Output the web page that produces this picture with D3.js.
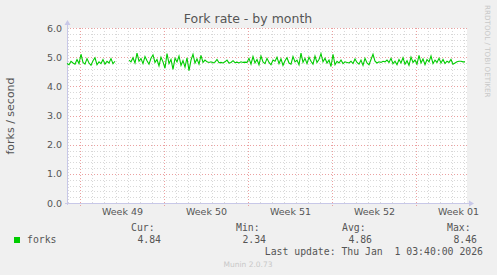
<!DOCTYPE html>
<html><head><meta charset="utf-8">
<script src="https://cdn.jsdelivr.net/npm/d3@7"></script>
<style>
html,body{margin:0;padding:0;background:#f0f0f0;}
svg{display:block;}
text{font-family:"DejaVu Sans",sans-serif;}
.mono{font-family:"DejaVu Sans Mono",monospace;}
</style></head>
<body>
<script>
// ---- data ----
const title = "Fork rate - by month";
const yLabel = "forks / second";
const yTickValues = [0, 1, 2, 3, 4, 5, 6];
const weekLabels = ["Week 49", "Week 50", "Week 51", "Week 52", "Week 01"];
const weekStarts = ["2025-12-01", "2025-12-08", "2025-12-15", "2025-12-22", "2025-12-29"];
const seriesStart = "2025-11-29T22:00:00Z";
const stepHours = 4;
const forks = [
  4.78, 4.74, 4.86, 4.80, 4.76, 4.92, 4.78, 5.10, 4.82, 4.76, 4.95, 4.80, 4.72, 4.88, 4.98, 4.74, 4.84, 4.78, 4.92, 4.76, 4.86, 4.80, 4.95, 4.78, 4.86,
  null, null, null, null, null, null,
  4.90, 4.84, 4.98, 4.80, 5.14, 4.86, 4.95, 4.78, 5.02, 4.88,
  4.76, 4.96, 5.08, 4.82, 4.92, 4.70, 5.00, 4.84, 4.62, 5.12,
  4.78, 4.92, 4.58, 4.96, 4.84, 5.04, 4.72, 4.88, 4.66, 4.98,
  4.54, 4.90, 5.10, 4.80, 4.94, 4.76, 5.06, 4.82, 4.90, 4.84,
  4.82, 4.84, 4.80, 4.83, 4.92, 4.81, 4.82, 4.80, 4.84, 4.90,
  4.80, 4.82, 4.88, 4.81, 4.83, 4.80, 4.84, 4.82, 4.83, 4.82,
  4.96, 4.76, 5.02, 4.80, 4.92, 4.74, 5.04, 4.84, 4.78, 4.96,
  4.82, 4.74, 4.90, 4.86, 5.00, 4.78, 4.94, 4.72, 4.88, 4.98,
  4.80, 4.76, 5.02, 4.84, 4.90, 4.74, 5.14, 4.82, 4.96, 4.78,
  5.00, 4.86, 4.76, 5.04, 4.82, 4.92, 5.12, 4.84, 4.96, 4.80,
  4.90, 4.68, 5.10, 4.74, 4.86, 4.80, 4.90, 4.78, 4.84, 4.82,
  4.80, 4.86, 4.78, 4.94, 4.82, 4.76, 4.90, 4.72, 4.96, 4.80,
  4.74, 4.92, 5.10, 4.86, 4.80, 4.84, 4.82, 4.86, 4.84, 4.90,
  4.82, 4.96, 4.78, 4.86, 4.74, 4.92, 4.80, 4.98, 4.76, 4.88,
  4.72, 5.00, 4.82, 4.90, 4.76, 5.06, 4.80, 4.94, 4.74, 4.92,
  4.84, 5.04, 4.78, 4.90, 4.82, 4.96, 4.80, 4.92, 4.78, 4.86,
  4.82, 4.92, 4.76, 4.80, 4.84, 4.86, 4.86, 4.84, 4.84
];
const legendName = "forks";
const statLabels = ["Cur:", "Min:", "Avg:", "Max:"];
const statValues = ["4.84", "2.34", "4.86", "8.46"];
const lastUpdate = "Last update: Thu Jan  1 03:40:00 2026";
const footer = "Munin 2.0.73";
const sideText = "RRDTOOL / TOBI OETIKER";

// ---- layout ----
const W = 497, H = 275;
const L = 67, R = 467, T = 28, B = 203;
const HOUR = 3600e3;
const t0 = new Date(seriesStart);
const t1 = new Date(+t0 + 200 * stepHours * HOUR);

const svg = d3.select("body").append("svg").attr("width", W).attr("height", H);
svg.append("rect").attr("width", W).attr("height", H).attr("fill", "#f0f0f0");

const x = d3.scaleUtc().domain([t0, t1]).range([L, R]);
const y = d3.scaleLinear().domain([0, 6]).range([B, T]);

svg.append("rect").attr("x", L).attr("y", T).attr("width", R - L).attr("height", B - T).attr("fill", "#ffffff");

const g = svg.append("g");
// minor horizontal grid
const minorY = d3.range(0, 30).map(i => i * 0.2).filter(v => Math.abs(v - Math.round(v)) > 1e-6);
g.selectAll(".hmin").data(minorY).join("line")
  .attr("x1", L).attr("x2", R).attr("y1", d => Math.round(y(d)) + 0.5).attr("y2", d => Math.round(y(d)) + 0.5)
  .attr("stroke", "#d8d8d8").attr("stroke-dasharray", "1,2");
// minor vertical grid (days)
const days = d3.utcDay.range(d3.utcDay.ceil(t0), t1);
g.selectAll(".vmin").data(days).join("line")
  .attr("x1", d => Math.round(x(d)) + 0.5).attr("x2", d => Math.round(x(d)) + 0.5).attr("y1", T).attr("y2", B)
  .attr("stroke", "#d8d8d8").attr("stroke-dasharray", "1,2");
// major horizontal grid
g.selectAll(".hmaj").data(yTickValues).join("line")
  .attr("x1", L).attr("x2", R).attr("y1", d => Math.round(y(d)) + 0.5).attr("y2", d => Math.round(y(d)) + 0.5)
  .attr("stroke", "#eba0a0").attr("stroke-dasharray", "1,2");
// major vertical grid (weeks)
const wDates = weekStarts.map(s => new Date(s + "T00:00:00Z"));
g.selectAll(".vmaj").data(wDates).join("line")
  .attr("x1", d => Math.round(x(d)) + 0.5).attr("x2", d => Math.round(x(d)) + 0.5).attr("y1", T).attr("y2", B + 3)
  .attr("stroke", "#eba0a0").attr("stroke-dasharray", "1,2");

// axes lines
const axisCol = "#c8c8e8";
svg.append("line").attr("x1", L + 0.5).attr("x2", L + 0.5).attr("y1", T - 4).attr("y2", B + 2).attr("stroke", axisCol);
svg.append("line").attr("x1", L - 2).attr("x2", R + 3).attr("y1", B + 0.5).attr("y2", B + 0.5).attr("stroke", axisCol);
svg.append("path").attr("d", `M${L - 2.5},${T - 3} L${L + 3.5},${T - 3} L${L + 0.5},${T - 8} Z`).attr("fill", axisCol);
svg.append("path").attr("d", `M${R + 2},${B - 2.5} L${R + 2},${B + 3.5} L${R + 7},${B + 0.5} Z`).attr("fill", axisCol);

// y axis labels
const yAxis = d3.axisLeft(y).tickValues(yTickValues).tickFormat(d3.format(".1f")).tickSize(0).tickPadding(5);
const ya = svg.append("g").attr("transform", `translate(${L},0)`).call(yAxis);
ya.select(".domain").remove();
ya.selectAll("text").attr("font-family", "DejaVu Sans").attr("font-size", 9.5).attr("fill", "#555");

// x axis labels (centered in week)
const mids = wDates.map(d => new Date(+d + 3.5 * 24 * HOUR));
const xAxis = d3.axisBottom(x).tickValues(mids).tickFormat((d, i) => weekLabels[i]).tickSize(0).tickPadding(5);
const xa = svg.append("g").attr("transform", `translate(0,${B})`).call(xAxis);
xa.select(".domain").remove();
xa.selectAll("text").attr("font-family", "DejaVu Sans").attr("font-size", 9.5).attr("fill", "#555");

// series
const pts = forks.map((v, i) => ({t: new Date(+t0 + i * stepHours * HOUR), v}));
const line = d3.line().defined(d => d.v != null).x(d => x(d.t)).y(d => y(d.v));
svg.append("path").datum(pts).attr("d", line).attr("fill", "none").attr("stroke", "#00cc00").attr("stroke-width", 1.1);

// title
svg.append("text").attr("x", 248).attr("y", 23).attr("text-anchor", "middle")
  .attr("font-size", 12.5).attr("fill", "#555").text(title);
// y label
svg.append("text").attr("transform", "translate(14,116) rotate(-90)").attr("text-anchor", "middle")
  .attr("font-size", 11).attr("fill", "#555").text(yLabel);
// side text
svg.append("text").attr("transform", "translate(485,5) rotate(90)").attr("text-anchor", "start")
  .attr("font-size", 7.2).attr("fill", "#c8c8c8").text(sideText);

// legend
svg.append("rect").attr("x", 14).attr("y", 237).attr("width", 6).attr("height", 6).attr("fill", "#00cc00");
const mono = svg.append("g").attr("class", "mono").attr("font-size", 9.8).attr("fill", "#555");
mono.append("text").attr("x", 27).attr("y", 243).attr("class", "mono").text(legendName);
const colX = [131, 236, 342, 447];
statLabels.forEach((s, i) => {
  mono.append("text").attr("class", "mono").attr("x", colX[i]).attr("y", 231).text(s);
  mono.append("text").attr("class", "mono").attr("x", colX[i] + 30).attr("y", 243).attr("text-anchor", "end").text(statValues[i]);
});
mono.append("text").attr("class", "mono").attr("x", 483).attr("y", 255).attr("text-anchor", "end").style("white-space", "pre").text(lastUpdate);
svg.append("text").attr("x", 248).attr("y", 267).attr("text-anchor", "middle")
  .attr("font-size", 7.5).attr("fill", "#c8c8c8").text(footer);
</script>
</body></html>
